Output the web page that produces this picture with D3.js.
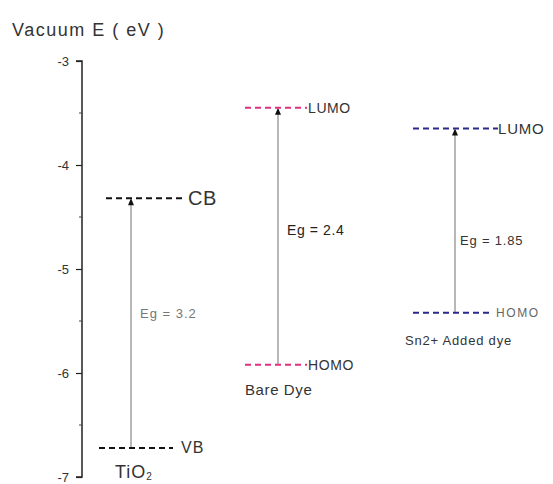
<!DOCTYPE html>
<html>
<head>
<meta charset="utf-8">
<script src="https://cdnjs.cloudflare.com/ajax/libs/d3/7.8.5/d3.min.js"></script>
<style>
  body { margin: 0; background: #fff; }
  svg { font-family: "Liberation Sans", Arial, sans-serif; }
</style>
</head>
<body>
<div id="chart"></div>
<script>
// energy levels (eV, vs vacuum)
const materials = ["TiO2", "Bare Dye", "Sn2+ Added dye"];
const upperLevels = [-4.32, -3.45, -3.65];
const lowerLevels = [-6.72, -5.92, -5.42];
const upperNames = ["CB", "LUMO", "LUMO"];
const lowerNames = ["VB", "HOMO", "HOMO"];
const gapLabels = ["Eg = 3.2", "Eg = 2.4", "Eg = 1.85"];
const yTicks = [-3, -4, -5, -6, -7];
const yMinorTicks = [-3.5, -4.5, -5.5, -6.5];

const width = 553, height = 484;

const svg = d3.select("#chart")
    .append("svg")
    .attr("width", width)
    .attr("height", height);

const y = d3.scaleLinear().domain([-3, -7]).range([61, 477]);

// axis
const axis = svg.append("g")
    .attr("transform", "translate(82,0)")
    .call(d3.axisLeft(y).tickValues(yTicks).tickSize(6).tickPadding(7).tickFormat(d => String(d)));
axis.select(".domain").attr("stroke", "#222").attr("stroke-width", 1.5).attr("d", "M-6,61H0V477H-6");
axis.selectAll(".tick line").attr("stroke", "#222").attr("stroke-width", 1.2);
axis.selectAll(".tick text").attr("font-size", 13).attr("fill", "#333").attr("font-family", "Liberation Sans, Arial, sans-serif");

svg.append("g").selectAll("line")
    .data(yMinorTicks)
    .enter()
    .append("line")
    .attr("x1", 79).attr("x2", 82)
    .attr("y1", d => y(d)).attr("y2", d => y(d))
    .attr("stroke", "#444").attr("stroke-width", 1);

svg.append("text")
    .attr("x", 12).attr("y", 36)
    .attr("font-size", 18)
    .attr("letter-spacing", 1.5)
    .attr("fill", "#333")
    .text("Vacuum E ( eV )");

// per-group layout
const layout = [
    { up: [106, 186], lo: [99, 173], arrow: 131, color: "#111",
      upFont: 20, upLs: 0.5, upDx: 2, upColor: "#333",
      loFont: 16, loLs: 1, loDx: 8, loColor: "#333",
      gapX: 140, gapY: 318, gapFont: 13, gapLs: 1, gapColor: "#777",
      nameX: 115, nameY: 478, nameFont: 18, nameLs: 1 },
    { up: [245, 307], lo: [245, 307], arrow: 278, color: "#e0307f",
      upFont: 14, upLs: 0.6, upDx: 1, upColor: "#333",
      loFont: 14, loLs: 0.6, loDx: 1, loColor: "#333",
      gapX: 287, gapY: 235, gapFont: 14, gapLs: 0.6, gapColor: "#222",
      nameX: 245, nameY: 395, nameFont: 15, nameLs: 0.6 },
    { up: [413, 498], lo: [413, 493], arrow: 455, color: "#2a2a8a",
      upFont: 15, upLs: 0.8, upDx: 0, upColor: "#333",
      loFont: 12, loLs: 1.6, loDx: 3, loColor: "#666",
      gapX: 460, gapY: 245, gapFont: 13, gapLs: 0.8, gapColor: "#333",
      nameX: 405, nameY: 345, nameFont: 13, nameLs: 0.8 }
];

const groups = svg.selectAll("g.material")
    .data(materials)
    .enter()
    .append("g")
    .attr("class", "material");

// gap arrows
groups.append("line")
    .attr("x1", (d, i) => layout[i].arrow)
    .attr("x2", (d, i) => layout[i].arrow)
    .attr("y1", (d, i) => y(lowerLevels[i]))
    .attr("y2", (d, i) => y(upperLevels[i]) + 2)
    .attr("stroke", "#888")
    .attr("stroke-width", 1.2);

groups.append("path")
    .attr("d", (d, i) => {
        const x = layout[i].arrow, yy = y(upperLevels[i]);
        return `M${x},${yy} L${x - 3},${yy + 7} L${x + 3},${yy + 7} Z`;
    })
    .attr("fill", "#111");

// dashed levels
groups.append("line")
    .attr("x1", (d, i) => layout[i].up[0])
    .attr("x2", (d, i) => layout[i].up[1])
    .attr("y1", (d, i) => y(upperLevels[i]))
    .attr("y2", (d, i) => y(upperLevels[i]))
    .attr("stroke", (d, i) => layout[i].color)
    .attr("stroke-width", 2)
    .attr("stroke-dasharray", "6,4");

groups.append("line")
    .attr("x1", (d, i) => layout[i].lo[0])
    .attr("x2", (d, i) => layout[i].lo[1])
    .attr("y1", (d, i) => y(lowerLevels[i]))
    .attr("y2", (d, i) => y(lowerLevels[i]))
    .attr("stroke", (d, i) => layout[i].color)
    .attr("stroke-width", 2)
    .attr("stroke-dasharray", "6,4");

// level names
groups.append("text")
    .attr("x", (d, i) => layout[i].up[1] + layout[i].upDx)
    .attr("y", (d, i) => y(upperLevels[i]))
    .attr("dy", "0.35em")
    .attr("font-size", (d, i) => layout[i].upFont)
    .attr("letter-spacing", (d, i) => layout[i].upLs)
    .attr("fill", (d, i) => layout[i].upColor)
    .text((d, i) => upperNames[i]);

groups.append("text")
    .attr("x", (d, i) => layout[i].lo[1] + layout[i].loDx)
    .attr("y", (d, i) => y(lowerLevels[i]))
    .attr("dy", "0.35em")
    .attr("font-size", (d, i) => layout[i].loFont)
    .attr("letter-spacing", (d, i) => layout[i].loLs)
    .attr("fill", (d, i) => layout[i].loColor)
    .text((d, i) => lowerNames[i]);

// gap labels
groups.append("text")
    .attr("x", (d, i) => layout[i].gapX)
    .attr("y", (d, i) => layout[i].gapY)
    .attr("font-size", (d, i) => layout[i].gapFont)
    .attr("letter-spacing", (d, i) => layout[i].gapLs)
    .attr("fill", (d, i) => layout[i].gapColor)
    .text((d, i) => gapLabels[i]);

// material names
groups.each(function(d, i) {
    const t = d3.select(this).append("text")
        .attr("x", layout[i].nameX)
        .attr("y", layout[i].nameY)
        .attr("font-size", layout[i].nameFont)
        .attr("letter-spacing", layout[i].nameLs)
        .attr("fill", "#333");
    if (d === "TiO2") {
        t.append("tspan").text("TiO");
        t.append("tspan").attr("font-size", 10).attr("dy", 2).text("2");
    } else {
        t.text(d);
    }
});
</script>
</body>
</html>
